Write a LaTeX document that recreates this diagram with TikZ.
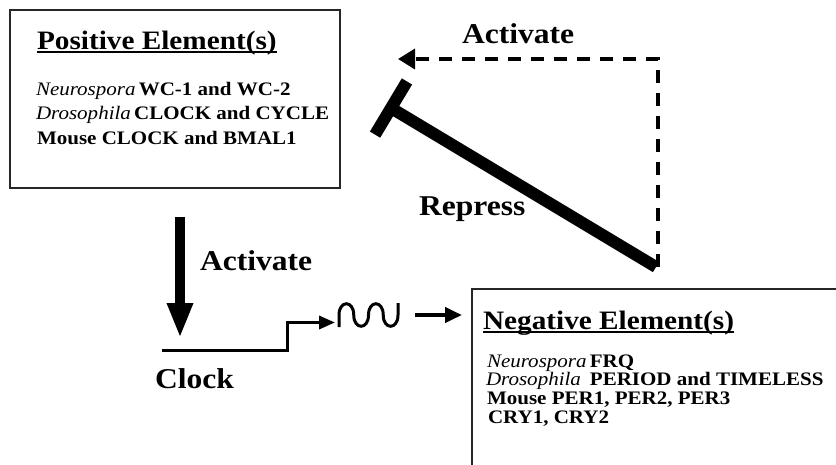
\documentclass[tikz,border=0pt]{standalone}
\usepackage{fontspec}
\setmainfont{Liberation Serif}[FakeStretch=1.1]
\usetikzlibrary{arrows.meta,calc}
\newcommand{\myul}[1]{\sbox0{#1}\rlap{\rule[-3.5pt]{\wd0}{1.8pt}}\usebox0}
\newcommand{\orgname}[1]{{\mdseries\itshape #1}}
\begin{document}
\begin{tikzpicture}[x=1pt,y=-1pt,
  txt/.style={anchor=base west, inner sep=0pt, outer sep=0pt, font=\bfseries\fontsize{19.1}{23}\selectfont},
  ptxt/.style={txt},
  ntxt/.style={txt},
  ttl/.style={txt, font=\bfseries\fontsize{26.6}{32}\selectfont},
  lbl/.style={txt, font=\bfseries\fontsize{28.7}{34}\selectfont},
  box/.style={draw=black!85, line width=1.3pt, anchor=north west, inner sep=0pt, outer sep=0pt},
  dashln/.style={line width=3.5pt, dash pattern=on 13pt off 10pt},
  thickln/.style={line width=12pt}]
\useasboundingbox (0,0) rectangle (836,464);
\clip (0,0) rectangle (836,464);
\fill[white] (0,0) rectangle (836,464);

% boxes
\node[box, minimum width=330pt, minimum height=178pt] (pos) at (10,10) {};
\node[box, minimum width=400pt, minimum height=220pt] (neg) at (472,289) {};

% positive texts
\node[ttl] (post) at (37,49.5) {\myul{Positive Element(s)}};
\node[ptxt] (p1) at (36,95) {\orgname{Neurospora}\,WC-1 and WC-2};
\node[ptxt] (p2) at (36,119) {\orgname{Drosophila}\,CLOCK and CYCLE};
\node[ptxt] (p3) at (37,144) {Mouse CLOCK and BMAL1};

% negative texts
\node[ttl] (negt) at (483,329.5) {\myul{Negative Element(s)}};
\node[ntxt] (n1) at (487,367) {\orgname{Neurospora}\,FRQ};
\node[ntxt] (n2) at (486,385.5) {\orgname{Drosophila}\hspace{9pt}PERIOD and TIMELESS};
\node[ntxt] (n3) at (487,404) {Mouse PER1, PER2, PER3};
\node[ntxt] (n4) at (488,423) {CRY1, CRY2};

% labels
\node[lbl] (acttop) at (462,43) {Activate};
\node[lbl] (actleft) at (200,270) {Activate};
\node[lbl] (rep) at (419,215) {Repress};
\node[lbl] (clk) at (155,388) {Clock};

% dashed activation
\coordinate (dashS) at (658,267);
\coordinate (dashT) at (398,59);
\draw[dashln, -{Triangle[width=20pt,length=17pt]}] (dashS) |- (dashT);

% repression
\coordinate (repS) at (656,267);
\coordinate (repE) at (391,108);
\draw[thickln] (repS) -- (repE);
\draw[thickln] ($(repE)!31pt!90:(repS)$) -- ($(repE)!31pt!-90:(repS)$);

% down arrow
\coordinate (dA) at (180,217);
\coordinate (dB) at (180,338);
\draw[line width=10pt, -{Triangle[width=24pt,length=35pt]}] (dA) -- (dB);

% clock line
\coordinate (cL) at (162,350.5);
\coordinate (cM) at (287.5,350.5);
\coordinate (cN) at (287.5,322.5);
\coordinate (wavein) at (335,322.5);
\draw[line width=3.5pt, -{Triangle[width=13pt,length=16pt]}] (cL) -- (cM) -- (cN) -- (wavein);

% wave
\coordinate (w0) at (339,327);
\coordinate (w1) at (398,303);
\draw[line width=3pt] (w0) -- (339,315)
  .. controls (339,300) and (353.75,300) .. (353.75,315)
  .. controls (353.75,330) and (368.5,330) .. (368.5,315)
  .. controls (368.5,300) and (383.25,300) .. (383.25,315)
  .. controls (383.25,330) and (398,330) .. (398,315) -- (w1);

% arrow to negative box
\coordinate (rA) at (415,315);
\coordinate (rB) at (462,315);
\draw[line width=4pt, -{Triangle[width=15pt,length=17pt]}] (rA) -- (rB);
\end{tikzpicture}
\end{document}
